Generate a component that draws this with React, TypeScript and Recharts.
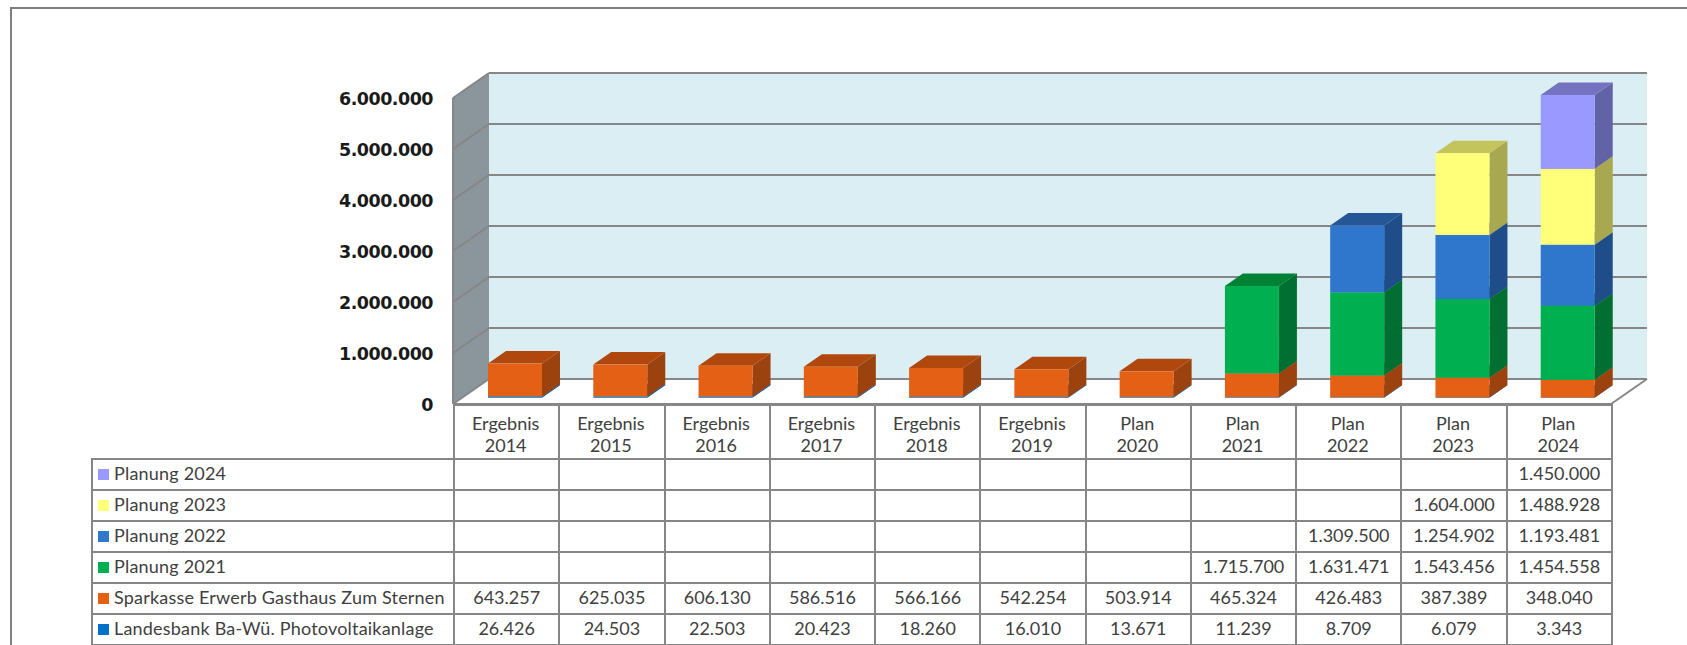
import { Bar, BarChart, CartesianGrid, ReferenceArea, XAxis, YAxis } from "recharts";

const categories = [
  "Ergebnis 2014", "Ergebnis 2015", "Ergebnis 2016", "Ergebnis 2017", "Ergebnis 2018", "Ergebnis 2019",
  "Plan 2020", "Plan 2021", "Plan 2022", "Plan 2023", "Plan 2024",
];

const landesbank = [26426, 24503, 22503, 20423, 18260, 16010, 13671, 11239, 8709, 6079, 3343];
const sparkasse = [643257, 625035, 606130, 586516, 566166, 542254, 503914, 465324, 426483, 387389, 348040];
const planung2021 = [null, null, null, null, null, null, null, 1715700, 1631471, 1543456, 1454558];
const planung2022 = [null, null, null, null, null, null, null, null, 1309500, 1254902, 1193481];
const planung2023 = [null, null, null, null, null, null, null, null, null, 1604000, 1488928];
const planung2024 = [null, null, null, null, null, null, null, null, null, null, 1450000];

const yTicks = [0, 1000000, 2000000, 3000000, 4000000, 5000000, 6000000];

// bottom of the stack first, the table lists them the other way round
const series = [
  { name: "Landesbank Ba-Wü. Photovoltaikanlage", values: landesbank, front: "#0070c8", side: "#004f8c", top: "#005a9e" },
  { name: "Sparkasse Erwerb Gasthaus Zum Sternen", values: sparkasse, front: "#e36014", side: "#9c420e", top: "#b0480e" },
  { name: "Planung 2021", values: planung2021, front: "#00b050", side: "#006f31", top: "#008133" },
  { name: "Planung 2022", values: planung2022, front: "#2f77cc", side: "#1f4d8a", top: "#255797" },
  { name: "Planung 2023", values: planung2023, front: "#ffff79", side: "#a8a850", top: "#c4c45c" },
  { name: "Planung 2024", values: planung2024, front: "#9999ff", side: "#6262a6", top: "#7373bf" },
];

const data = categories.map((name, i) => {
  const row: Record<string, string | number | null> = { name };
  series.forEach((s) => {
    row[s.name] = s.values[i];
  });
  return row;
});

const width = 1687;
const height = 645;
const plotLeft = 453;
const plotRight = 1611;
const plotTop = 98;
const plotBottom = 404;
const depthX = 36;
const depthY = 25;
const gridColor = "#868686";
const textColor = "#404040";
const tableFont = "Lato, sans-serif";

const de = (v: number) => String(v).replace(/\B(?=(\d{3})+$)/g, ".");

const box3d = (colors: { side: string; top: string }) => (props: any) => {
  const { x, y, width: w, height: h, fill } = props;
  if (!h || h <= 0) return <g />;
  const dx = depthX / 4;
  const dy = depthY / 4;
  const bx = depthX / 2;
  const by = depthY / 2;
  const l = x + dx;
  const t = y - dy;
  const r = l + w;
  const b = t + h;
  return (
    <g>
      <polygon points={`${r},${t} ${r + bx},${t - by} ${r + bx},${b - by} ${r},${b}`} fill={colors.side} />
      <polygon points={`${l},${t} ${l + bx},${t - by} ${r + bx},${t - by} ${r},${t}`} fill={colors.top} />
      <rect x={l} y={t} width={w} height={h} fill={fill} />
    </g>
  );
};

const Walls = (props: any) => {
  const { x, y, width: w, height: h } = props;
  return (
    <g>
      <rect x={x + depthX} y={y - depthY} width={w} height={h} fill="#daeef3" />
      <polygon
        points={`${x},${y} ${x + depthX},${y - depthY} ${x + depthX},${y + h - depthY} ${x},${y + h}`}
        fill="#8a969c"
      />
    </g>
  );
};

const gridLine = (props: any) => {
  const { x1, x2, y1 } = props;
  const isFloor = Math.abs(y1 - plotBottom) < 1;
  return (
    <g key={`grid-${y1}`} stroke={gridColor} strokeWidth={2} fill="none">
      <line x1={x1} y1={y1} x2={x1 + depthX} y2={y1 - depthY} />
      <line x1={x1 + depthX} y1={y1 - depthY} x2={x2 + depthX} y2={y1 - depthY} />
      {isFloor && <line x1={x2} y1={y1} x2={x2 + depthX} y2={y1 - depthY} />}
    </g>
  );
};

const CategoryTick = (props: any) => {
  const { x, y, payload } = props;
  const [first, second] = String(payload.value).split(" ");
  return (
    <text x={x} textAnchor="middle" fontFamily={tableFont} fontSize={18} fill={textColor}>
      <tspan x={x} y={y + 26}>{first}</tspan>
      <tspan x={x} y={y + 48}>{second}</tspan>
    </text>
  );
};

const cellBorder = `2px solid ${gridColor}`;
const legendWidth = plotLeft - 91;
const colWidth = (plotRight - plotLeft) / categories.length;

const DataTable = () => (
  <table
    style={{
      position: "absolute",
      left: 91,
      top: plotBottom,
      width: legendWidth + colWidth * categories.length,
      tableLayout: "fixed",
      borderCollapse: "collapse",
      fontFamily: tableFont,
      fontSize: 18,
      color: textColor,
    }}
  >
    <colgroup>
      <col style={{ width: legendWidth }} />
      {categories.map((c) => (
        <col key={c} style={{ width: colWidth }} />
      ))}
    </colgroup>
    <tbody>
      <tr style={{ height: 54 }}>
        <td style={{ borderRight: cellBorder, borderBottom: cellBorder }} />
        {categories.map((c) => (
          <td key={c} style={{ border: cellBorder }} />
        ))}
      </tr>
      {[...series].reverse().map((s) => (
        <tr key={s.name} style={{ height: 31 }}>
          <td style={{ border: cellBorder, padding: "0 0 3px 5px", whiteSpace: "nowrap", letterSpacing: 0.2 }}>
            <span
              style={{ display: "inline-block", width: 11, height: 11, background: s.front, marginRight: 5 }}
            />
            {s.name}
          </td>
          {s.values.map((v, i) => (
            <td key={i} style={{ border: cellBorder, padding: "0 0 3px 0", textAlign: "center" }}>
              {v === null ? "" : de(v)}
            </td>
          ))}
        </tr>
      ))}
    </tbody>
  </table>
);

export default function App() {
  return (
    <div style={{ position: "absolute", left: 0, top: 0, width, height, overflow: "hidden", background: "#fff" }}>
      <div
        style={{
          position: "absolute",
          left: 10,
          top: 7,
          width,
          height,
          borderTop: "2px solid #7f7f7f",
          borderLeft: "2px solid #7f7f7f",
        }}
      />
      <BarChart
        width={width}
        height={height}
        data={data}
        margin={{ top: plotTop, right: width - plotRight, bottom: 0, left: 0 }}
        barSize={54}
        style={{ position: "absolute", left: 0, top: 0 }}
      >
        <ReferenceArea y1={0} y2={6000000} shape={Walls} ifOverflow="visible" zIndex={-200} />
        <CartesianGrid vertical={false} horizontal={gridLine} />
        <XAxis
          dataKey="name"
          height={height - plotBottom}
          axisLine={{ stroke: gridColor, strokeWidth: 2 }}
          tickLine={false}
          tickSize={0}
          tickMargin={0}
          interval={0}
          tick={CategoryTick}
        />
        <YAxis
          width={plotLeft}
          domain={[0, 6000000]}
          ticks={yTicks}
          tickFormatter={de}
          axisLine={{ stroke: gridColor, strokeWidth: 2 }}
          tickLine={false}
          tickSize={0}
          tickMargin={20}
          tick={{ fontFamily: "DejaVu Sans", fontWeight: 700, fontSize: 17.5, letterSpacing: -0.5, fill: "#1a1a1a", dy: 1 }}
        />
        {series.map((s) => (
          <Bar
            key={s.name}
            dataKey={s.name}
            stackId="a"
            fill={s.front}
            shape={box3d(s)}
            isAnimationActive={false}
          />
        ))}
      </BarChart>
      <DataTable />
    </div>
  );
}
